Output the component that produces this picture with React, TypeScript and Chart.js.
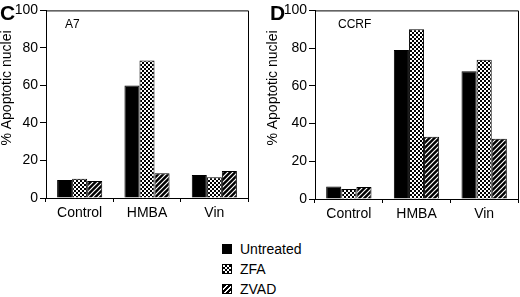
import React, { useEffect, useRef } from "react";
import { Chart, registerables } from "chart.js";
Chart.register(...registerables);

const categories = ["Control", "HMBA", "Vin"];
const seriesNames = ["Untreated", "ZFA", "ZVAD"];
const a7Untreated = [9.6, 60, 12.3];
const a7ZFA = [10.2, 73.3, 11];
const a7ZVAD = [9, 13.2, 14.4];
const ccrfUntreated = [6.6, 79, 67.8];
const ccrfZFA = [5.3, 90, 73.8];
const ccrfZVAD = [6.3, 33, 32];
const yMin = 0;
const yMax = 100;
const yStep = 20;
const yTitle = "% Apoptotic nuclei";

const FONT = '"Liberation Sans", Arial, Helvetica, sans-serif';

function makeChecker(ctx: CanvasRenderingContext2D) {
  const c = document.createElement("canvas");
  c.width = 4;
  c.height = 4;
  const g = c.getContext("2d")!;
  g.fillStyle = "#fff";
  g.fillRect(0, 0, 4, 4);
  g.fillStyle = "#000";
  g.fillRect(0, 0, 2, 2);
  g.fillRect(2, 2, 2, 2);
  return ctx.createPattern(c, "repeat")!;
}

function makeHatch(ctx: CanvasRenderingContext2D) {
  const s = 5;
  const c = document.createElement("canvas");
  c.width = s;
  c.height = s;
  const g = c.getContext("2d")!;
  g.fillStyle = "#000";
  g.fillRect(0, 0, s, s);
  g.strokeStyle = "#fff";
  g.lineWidth = 1.2;
  g.beginPath();
  g.moveTo(0, s);
  g.lineTo(s, 0);
  g.moveTo(-1, 1);
  g.lineTo(1, -1);
  g.moveTo(s - 1, s + 1);
  g.lineTo(s + 1, s - 1);
  g.stroke();
  return ctx.createPattern(c, "repeat")!;
}

const panelPlugin = {
  id: "panelText",
  afterDraw(chart: any, _args: any, opts: any) {
    const ctx = chart.ctx as CanvasRenderingContext2D;
    const { left, right, top, bottom } = chart.chartArea;
    ctx.save();
    ctx.strokeStyle = "#000";
    ctx.lineWidth = 1;
    ctx.beginPath();
    ctx.moveTo(left, top + 0.5);
    ctx.lineTo(right + 0.5, top + 0.5);
    ctx.lineTo(right + 0.5, bottom);
    ctx.stroke();
    ctx.fillStyle = "#000";
    ctx.textBaseline = "alphabetic";
    ctx.textAlign = "left";
    ctx.font = `bold 21px ${FONT}`;
    ctx.fillText(opts.letter, opts.letterX, 20);
    ctx.font = `12px ${FONT}`;
    ctx.fillText(opts.label, opts.labelX, 28);
    // y-axis title
    ctx.save();
    ctx.translate(opts.titleX, opts.titleY);
    ctx.rotate(-Math.PI / 2);
    ctx.font = `14px ${FONT}`;
    ctx.textAlign = "center";
    ctx.textBaseline = "middle";
    ctx.fillText(opts.title, 0, 0);
    ctx.restore();
    ctx.restore();
  },
};

type PanelProps = {
  letter: string;
  letterX: number;
  label: string;
  labelX: number;
  titleX: number;
  left: number;
  plotLeft: number;
  plotRight: number;
  plotTop: number;
  plotBottom: number;
  untreated: number[];
  zfa: number[];
  zvad: number[];
};

const W = 260;
const H = 222;

function Panel(p: PanelProps) {
  const ref = useRef<HTMLCanvasElement>(null);
  useEffect(() => {
    const canvas = ref.current!;
    const ctx = canvas.getContext("2d")!;
    const checker = makeChecker(ctx);
    const hatch = makeHatch(ctx);
    const fills = ["#000", checker, hatch];
    const values = [p.untreated, p.zfa, p.zvad];
    const chart = new Chart(canvas, {
      type: "bar",
      data: {
        labels: categories,
        datasets: seriesNames.map((name, i) => ({
          label: name,
          data: values[i],
          backgroundColor: fills[i] as any,
          borderColor: "#000",
          borderWidth: 1,
          borderSkipped: "bottom",
          categoryPercentage: 0.67,
          barPercentage: 1.0,
        })),
      },
      options: {
        animation: false,
        responsive: false,
        maintainAspectRatio: false,
        layout: {
          padding: {
            left: 0,
            right: W - p.plotRight,
            top: p.plotTop,
            bottom: 0,
          },
        },
        plugins: {
          legend: { display: false },
          tooltip: { enabled: false },
          panelText: {
            letter: p.letter,
            letterX: p.letterX,
            label: p.label,
            labelX: p.labelX,
            title: yTitle,
            titleX: p.titleX,
            titleY: 88,
          },
        } as any,
        scales: {
          x: {
            grid: { drawOnChartArea: false, drawTicks: true, tickLength: 4, color: "#000", offset: true },
            border: { color: "#000", width: 1 },
            ticks: { color: "#000", font: { family: FONT, size: 14 }, padding: 3, maxRotation: 0 },
            afterFit: (scale: any) => {
              scale.height = H - p.plotBottom;
            },
          },
          y: {
            min: yMin,
            max: yMax,
            grid: { drawOnChartArea: false, drawTicks: true, tickLength: 6, color: "#000" },
            border: { color: "#000", width: 1 },
            ticks: { stepSize: yStep, color: "#000", font: { family: FONT, size: 14 }, padding: 2 },
            afterFit: (scale: any) => {
              scale.width = p.plotLeft;
            },
          },
        },
      },
      plugins: [panelPlugin as any],
    });
    return () => chart.destroy();
  }, []);
  return (
    <canvas
      ref={ref}
      width={W}
      height={H}
      style={{ position: "absolute", left: p.left, top: 0, width: W, height: H }}
    />
  );
}

const swatchStyles: React.CSSProperties[] = [
  { background: "#000" },
  {
    backgroundColor: "#fff",
    backgroundImage: "conic-gradient(#000 25%, #fff 0 50%, #000 0 75%, #fff 0)",
    backgroundSize: "4px 4px",
  },
  {
    backgroundImage: "repeating-linear-gradient(135deg, #000 0 2.6px, #fff 2.6px 3.6px)",
  },
];

export default function App() {
  useEffect(() => {
    document.body.style.margin = "0";
  }, []);
  return (
    <div style={{ position: "absolute", left: 0, top: 0, width: 520, height: 297, background: "#fff", overflow: "hidden" }}>
      <Panel
        letter="C"
        letterX={0}
        label="A7"
        labelX={65}
        titleX={7}
        left={0}
        plotLeft={46}
        plotRight={248}
        plotTop={5}
        plotBottom={198}
        untreated={a7Untreated}
        zfa={a7ZFA}
        zvad={a7ZVAD}
      />
      <Panel
        letter="D"
        letterX={10}
        label="CCRF"
        labelX={78}
        titleX={13}
        left={260}
        plotLeft={55}
        plotRight={258}
        plotTop={5}
        plotBottom={199}
        untreated={ccrfUntreated}
        zfa={ccrfZFA}
        zvad={ccrfZVAD}
      />
      {seriesNames.map((name, i) => (
        <div
          key={name}
          style={{
            position: "absolute",
            left: 222,
            top: 239 + i * 20,
            height: 20,
            display: "flex",
            alignItems: "center",
            fontFamily: FONT,
            fontSize: 14,
            color: "#000",
            whiteSpace: "nowrap",
          }}
        >
          <div style={{ width: 10, height: 10, border: "1px solid #000", boxSizing: "border-box", marginRight: 8, ...swatchStyles[i] }} />
          <span>{name}</span>
        </div>
      ))}
    </div>
  );
}
